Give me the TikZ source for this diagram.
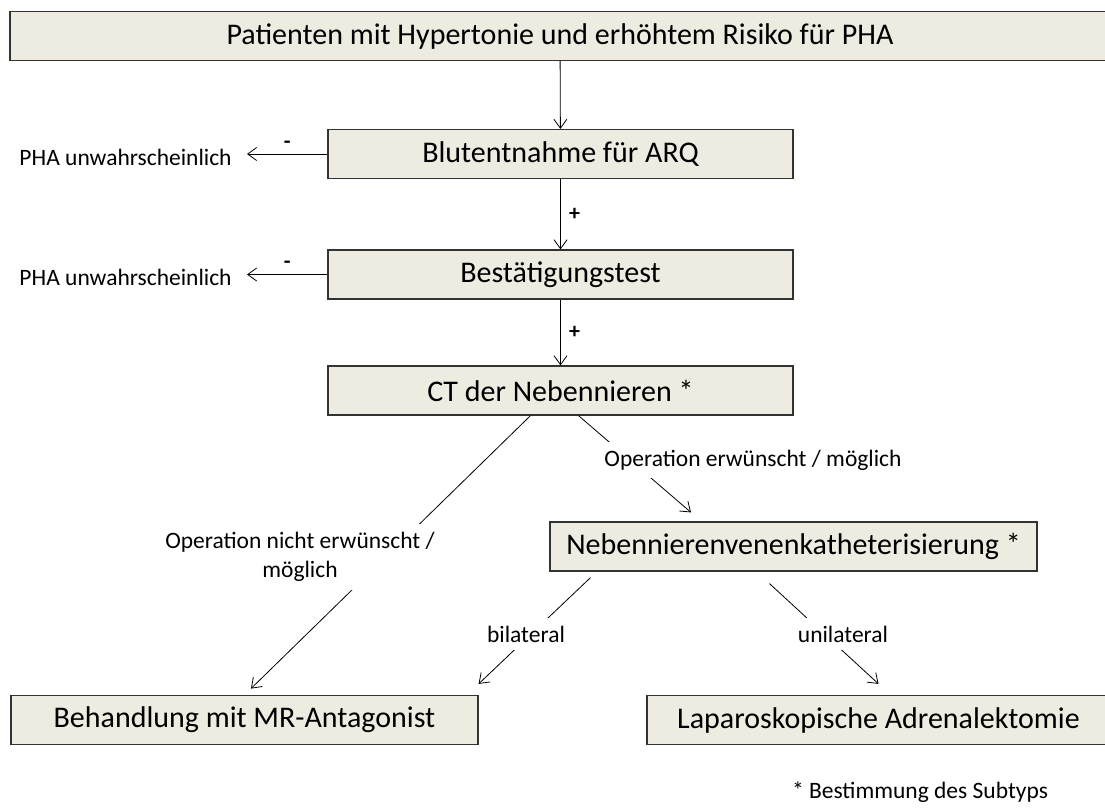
\documentclass[tikz,border=0pt]{standalone}
\usepackage{fontspec}
\setmainfont{Carlito}
\usetikzlibrary{arrows.meta}
\definecolor{boxfill}{HTML}{EEECE1}

\begin{document}
\begin{tikzpicture}[x=1pt, y=-1pt, line width=0.8pt,
    >={Straight Barb[length=9pt, width=13pt]},
    box/.style={draw=black!80, fill=boxfill, line width=1.2pt, rectangle, inner sep=0pt, minimum height=49pt, font=\fontsize{30}{34}\selectfont},
    note/.style={font=\fontsize{23.5}{29}\selectfont, align=center},
    gap/.style={note, fill=white, inner sep=8pt},
    sign/.style={font=\bfseries\fontsize{22}{26}\selectfont}]

        \useasboundingbox (0,0) rectangle (1105,807);

        % Kopf
        \node[box, minimum width=1100pt] at (560, 36) (patients) {Patienten mit Hypertonie und erhöhtem Risiko für PHA};

        % Screening
        \node[box, minimum width=465pt] at (560.5, 154) (arq) {Blutentnahme für ARQ};
        \node[note, anchor=east, inner xsep=15pt] at (247, 157) (unlikelyA) {PHA unwahrscheinlich};

        % Bestaetigung
        \node[box, minimum width=465pt] at (560.5, 274.5) (confirm) {Bestätigungstest};
        \node[note, anchor=east, inner xsep=15pt] at (247, 277) (unlikelyB) {PHA unwahrscheinlich};

        % Bildgebung
        \node[box, minimum width=465pt] at (560.5, 390.5) (ct) {CT der Nebennieren *};
        \node[box, minimum width=487pt] at (793.5, 546.5) (avs) {Nebennierenvenenkatheterisierung *};

        % Therapie
        \node[box, minimum width=467pt] at (244.5, 720) (mra) {Behandlung mit MR-Antagonist};
        \node[box, minimum width=463pt] at (878.5, 720) (adx) {Laparoskopische Adrenalektomie};

        % Pfeile
        \draw[->] (patients) -- (arq);
        \draw[->] (arq) -- (confirm) node[midway, right=5pt, sign] {+};
        \draw[->] (confirm) -- (ct) node[midway, right=5pt, sign] {+};
        \draw[->] (arq.west) -- (arq.west -| unlikelyA.east) node[midway, above=2pt, sign] {-};
        \draw[->] (confirm.west) -- (confirm.west -| unlikelyB.east) node[midway, above=2pt, sign] {-};
        \draw[->, shorten >=9pt] ([xshift=-30pt]ct.south) -- (mra.north);
        \draw[->] ([xshift=18pt]ct.south) -- ([xshift=-102.5pt, yshift=9pt]avs.north);
        \draw[->] ([xshift=-203pt, yshift=-6pt]avs.south) -- ([yshift=11pt]mra.north east);
        \draw[->] ([xshift=-24pt, yshift=-12pt]avs.south) -- ([yshift=11pt]adx.north);

        % Beschriftungen
        \node[gap] at (300, 557) (nooplabel) {Operation nicht erwünscht /\\möglich};
        \node[gap] at (753, 460) (oplabel) {Operation erwünscht / möglich};
        \node[gap] at (526, 634) (bilabel) {bilateral};
        \node[gap] at (843, 634) (unilabel) {unilateral};

        % Fussnote
        \node[note] at (920, 792) (footnote) {* Bestimmung des Subtyps};
    \end{tikzpicture}
\end{document}
